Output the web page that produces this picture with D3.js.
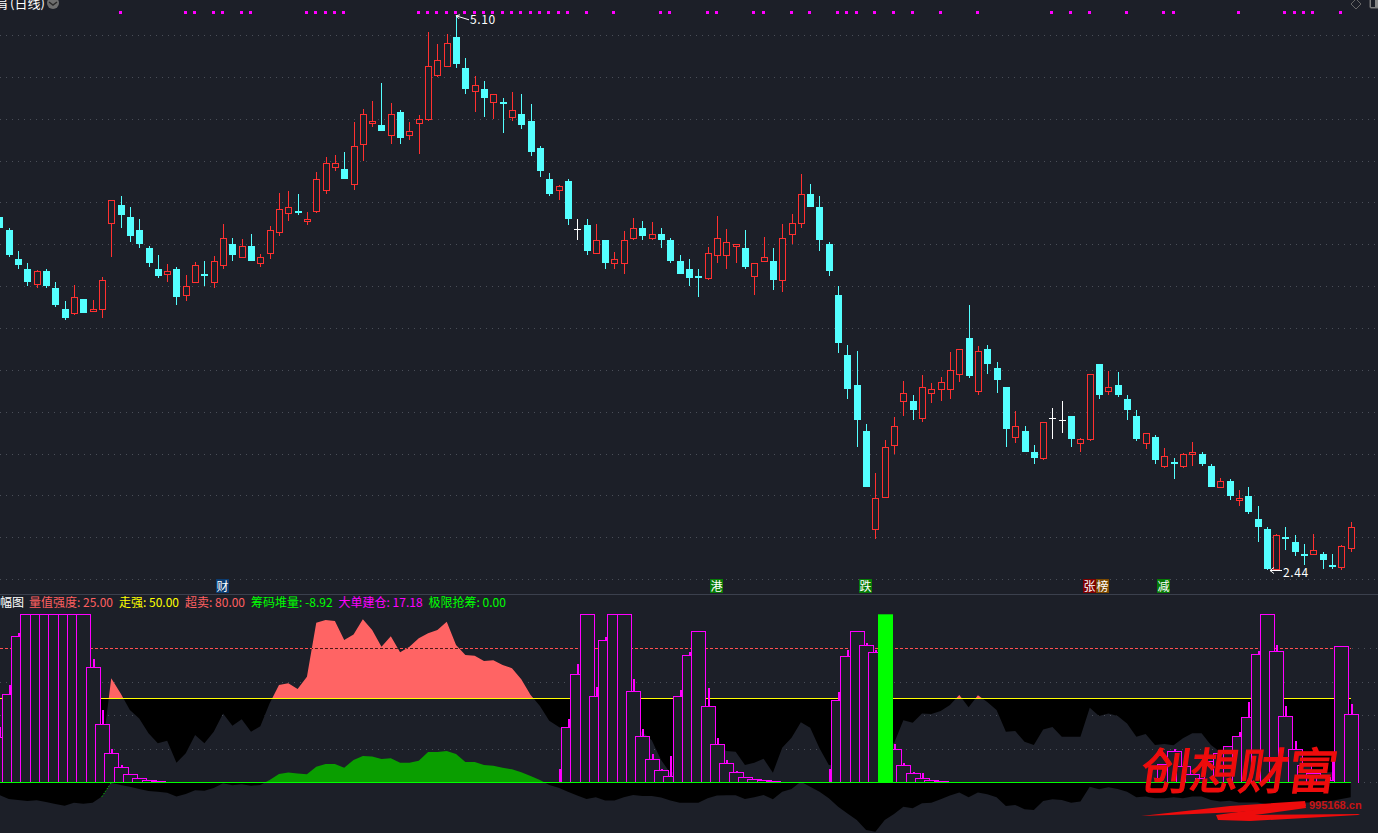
<!DOCTYPE html>
<html>
<head>
<meta charset="utf-8">
<script src="https://cdnjs.cloudflare.com/ajax/libs/d3/7.8.5/d3.min.js"></script>
<style>
html,body{margin:0;padding:0;background:#1c1f28;overflow:hidden}
svg{display:block}
text{font-family:"Noto Sans CJK SC","Liberation Sans",sans-serif}
</style>
</head>
<body>
<div id="chart"></div>
<script>
const opens = [
4.134,4.072,3.933,3.885,3.811,3.875,3.794,3.693,3.670,3.741,
3.682,3.690,4.104,4.192,4.134,4.072,3.986,3.885,3.859,3.885,
3.757,3.819,3.861,3.819,3.901,4.005,3.939,3.995,3.910,3.958,
4.061,4.152,4.163,4.114,4.160,4.261,4.373,4.365,4.290,4.483,
4.584,4.576,4.526,4.638,4.526,4.584,4.603,4.814,4.858,4.998,
4.850,4.738,4.749,4.683,4.686,4.611,4.629,4.595,4.466,4.317,
4.262,4.307,4.078,4.096,3.958,4.024,3.910,3.910,4.030,4.082,
4.030,4.053,4.024,3.923,3.885,3.851,3.838,3.949,3.949,3.994,
3.986,3.850,3.920,3.923,3.829,4.050,4.104,4.245,4.182,4.005,
3.760,3.472,3.328,3.107,2.635,2.790,3.037,3.248,3.251,3.166,
3.286,3.306,3.306,3.378,3.554,3.296,3.501,3.410,3.318,3.075,
3.107,3.006,2.974,3.168,3.158,3.179,3.046,3.066,3.429,3.296,
3.328,3.261,3.179,3.046,3.078,2.936,2.958,2.936,2.994,2.997,
2.939,2.835,2.867,2.773,2.795,2.685,2.637,2.442,2.598,2.574,
2.517,2.514,2.517,2.464,2.451,2.542]
const highs = [
4.134,4.082,3.971,3.914,3.880,3.885,3.822,3.731,3.808,3.741,
3.736,3.846,4.214,4.235,4.182,4.125,3.995,3.952,3.909,3.894,
3.856,3.918,3.923,3.947,4.101,4.034,4.029,4.053,3.957,4.091,
4.250,4.259,4.245,4.158,4.350,4.422,4.432,4.446,4.590,4.653,
4.691,4.778,4.682,4.648,4.590,4.624,5.022,4.965,5.013,5.100,
4.898,4.811,4.787,4.723,4.706,4.734,4.725,4.677,4.475,4.346,
4.288,4.317,4.125,4.125,4.101,4.024,3.966,4.067,4.130,4.115,
4.110,4.082,4.034,3.952,3.933,3.885,3.990,4.139,4.077,4.003,
4.072,3.912,4.038,3.986,4.101,4.149,4.341,4.293,4.235,4.014,
3.803,3.520,3.491,3.141,2.906,3.064,3.174,3.347,3.280,3.376,
3.338,3.366,3.486,3.499,3.712,3.515,3.520,3.438,3.318,3.203,
3.131,3.040,3.149,3.218,3.251,3.179,3.074,3.379,3.429,3.395,
3.390,3.280,3.208,3.096,3.088,3.026,2.978,3.002,3.054,3.006,
2.949,2.882,2.877,2.824,2.838,2.747,2.646,2.613,2.646,2.608,
2.565,2.613,2.526,2.517,2.560,2.670]
const lows = [
4.082,3.942,3.885,3.803,3.794,3.794,3.702,3.640,3.664,3.674,
3.682,3.650,3.942,4.082,4.014,3.986,3.894,3.842,3.822,3.712,
3.731,3.819,3.803,3.794,3.885,3.923,3.939,3.923,3.894,3.933,
4.043,4.115,4.144,4.096,4.155,4.245,4.355,4.317,4.264,4.402,
4.566,4.547,4.485,4.485,4.504,4.437,4.594,4.805,4.856,4.850,
4.725,4.638,4.614,4.605,4.538,4.595,4.557,4.427,4.326,4.235,
4.216,4.096,4.024,3.952,3.958,3.885,3.885,3.861,4.024,4.024,
4.024,3.986,3.914,3.861,3.803,3.750,3.832,3.914,3.885,3.914,
3.885,3.760,3.920,3.784,3.774,4.003,4.082,4.182,3.971,3.851,
3.482,3.261,3.030,2.838,2.589,2.786,2.997,3.179,3.160,3.150,
3.242,3.251,3.261,3.342,3.362,3.280,3.381,3.290,3.030,3.050,
3.006,2.949,2.968,3.069,3.098,3.030,3.006,3.059,3.261,3.280,
3.270,3.160,3.059,3.021,2.949,2.930,2.877,2.930,2.939,2.939,
2.838,2.835,2.776,2.747,2.709,2.574,2.440,2.440,2.536,2.507,
2.464,2.514,2.445,2.445,2.440,2.526]
const closes = [
4.082,3.952,3.904,3.822,3.874,3.803,3.712,3.650,3.749,3.674,
3.691,3.830,4.214,4.144,4.043,4.005,3.914,3.851,3.874,3.750,
3.802,3.902,3.851,3.922,4.032,3.952,3.994,3.923,3.941,4.070,
4.171,4.181,4.154,4.123,4.315,4.392,4.392,4.317,4.474,4.627,
4.594,4.547,4.627,4.514,4.546,4.602,4.858,4.886,4.968,4.869,
4.749,4.766,4.706,4.723,4.677,4.646,4.576,4.446,4.355,4.245,
4.282,4.125,4.078,3.971,4.022,3.914,3.931,4.022,4.080,4.043,
4.051,4.024,3.923,3.861,3.842,3.842,3.960,4.032,4.013,4.003,
3.894,3.912,3.941,3.832,4.032,4.104,4.243,4.182,4.024,3.875,
3.530,3.309,3.160,2.838,2.784,3.029,3.130,3.288,3.208,3.317,
3.307,3.341,3.398,3.499,3.371,3.490,3.429,3.352,3.117,3.130,
3.006,2.978,3.149,3.168,3.158,3.069,3.067,3.379,3.280,3.317,
3.280,3.208,3.069,3.096,2.968,2.986,2.949,2.995,3.005,2.949,
2.838,2.866,2.795,2.784,2.718,2.646,2.445,2.606,2.589,2.526,
2.507,2.534,2.488,2.454,2.554,2.645]
const signalDays = [13,20,21,23,24,26,27,33,34,35,36,37,45,46,47,48,49,50,51,52,53,54,55,56,57,58,59,60,61,63,66,71,72,76,77,81,82,85,87,90,91,92,94,96,98,101,105,113,115,117,121,125,126,133,138,139,140,141,144]
const priceGrid = [5.008,4.806,4.605,4.403,4.206,4.005,3.803,3.602,3.400,3.198,2.997,2.800,2.598,2.397]
const tagDays = [24,77,93,117,118,125]
const tagTexts = ["财","港","跌","张","榜","减"]
const tagColors = ["#0b3b70","#067a06","#067a06","#7d0000","#7a4800","#067a06"]

// lower panel
const strength = [
50,50,50,50,50,50,50,50,50,50,
50,17,61.9,53,43,38,29.2,23.2,24.8,11.7,
17.3,28.2,23.2,30.1,41,33.7,37.5,30.1,33.3,47,
57.9,58.9,55.5,62.9,95,96.6,96,84.7,88,97,
90.7,80.7,87,77.4,80.7,85.7,88.7,90.7,95.6,81.7,
75.8,75.4,72.2,72.6,69.8,67.9,61.3,52,45.4,36.7,
33,30,28,25,26,28,30,30,32,30,
25,13.3,5.4,8,15,20,25,22,18.6,18.2,
10.3,11.7,14,5.7,20.6,26.5,35.7,32.5,20.2,10.3,
10,12,15,18,20,22,23.2,37,35.5,41,
40.7,42.4,46,52,44.6,51.8,47.8,43,30.1,30.5,
24.2,22.2,31.5,32.9,27.1,27.1,27.1,44.4,39.5,41,
39.5,35,27.1,28.8,22.2,22.8,22,26.2,29.2,29.2,
22.2,18,15,12,10,10,10,10,10,8,
8,6,6,6,10,25]
const chips = [
-7.5,-9.9,-10.5,-11.1,-10.7,-11.7,-12.9,-13.9,-12.1,-12.7,
-12.1,-8.5,-0.2,-1.6,-2.6,-4,-5.2,-5.6,-6.2,-8.5,
-6.9,-4.8,-5,-3.4,-0.6,-1.8,-1.2,-2,-1.6,1.4,
5,5.8,5.2,4.8,9.3,10.9,10.9,8.7,13.3,15.7,
15.3,13.9,14.3,11.7,11.7,12.9,18,18,18.7,16.9,
12.1,12.1,10.3,9.9,8.7,7.7,6,3.8,1.4,-1.6,
-3.2,-5.6,-7.9,-9.9,-8.9,-10.9,-10.9,-8.9,-7.5,-8.1,
-8.1,-9.1,-10.9,-12.1,-12.1,-12.1,-9.5,-7.9,-7.7,-7.7,
-9.9,-8.9,-7.5,-10.1,-5.6,-4,0.4,-2.6,-5.6,-9.5,
-14.5,-18.5,-22.4,-28.4,-29.4,-22.4,-18.8,-14.5,-15.5,-12.5,
-12.1,-10.1,-7.9,-6,-8.9,-6,-7.1,-8.9,-14.1,-13.5,
-16.1,-16.5,-11.1,-10.1,-10.5,-12.1,-11.5,-2.6,-4.2,-3,
-4,-5.6,-8.9,-8.5,-9.5,-9.5,-8.9,-9.5,-8.5,-8.5,
-10.5,-11.5,-11,-12,-12,-12,-13,-13,-13,-13,
-12,-12,-11,-11,-10,-8.92]
const bigBuy = [
27.1,52.4,86.9,100,100,100,100,100,100,100,
68.5,34.5,17.3,8.9,4.8,2.4,1.4,0.6,0.4,0.4,
0.4,0,0,0,0,0,0,0,0,0,
0,0,0,0,0,0,0,0,0,0,
0,0,0,0,0,0,0,0,0,0,
0,0,0,0,0,0,0,0,0,0,
0,32.7,64.3,100,51.2,84.5,100,100,54.2,27.4,
13.7,7.1,3.6,51.2,75.6,89.9,45.2,22.6,11.3,6,
3,1.8,1.2,0.6,0.4,0.4,0.4,0,0,0,
49.2,75,89.9,81.5,77.4,0,19.6,10.1,5.4,2.4,
1.2,0.6,0.4,0.4,0.4,0,0,0,0,0,
0,0,0,0,0,0,0,0,0,0,
0,0,0,0,0,10.7,18.5,9.5,4.8,2.4,
12.5,17.3,21.4,27.4,38.7,76.2,100,78,39.3,19.6,
10.1,5.4,3,1.2,81,40.5]
const bigBuyTop = [
32.9,57.9,89,0,0,0,0,0,0,0,
73.4,43,19.6,10.3,0,0,0,0,0,0,
0,0,0,0,0,0,0,0,0,0,
0,0,0,0,0,0,0,0,0,0,
0,0,0,0,0,0,0,0,0,0,
0,0,0,0,0,0,0,0,0,0,
7.7,37.5,70.4,0,56.5,86.7,0,0,61.5,31.5,
16.7,8,15.6,55,77.7,0,56.1,26.4,13.1,7,
0,0,0,0,0,0,0,0,0,7.7,
53.6,78.8,0,82.9,78.8,0,22.8,11.5,6.1,5.5,
0,0,0,0,0,0,0,0,0,0,
0,0,0,0,0,0,0,0,0,0,
0,0,0,0,0,0,20,0,0,0,
0,0,0,30,47.6,78,0,81.5,45.2,24.4,
0,0,0,14.5,0,46.6]
const limitDays = [95]
const limitValue = [100]
const levels = [20,40,60]
const headerNames = ["量值强度","走强","超卖","筹码堆量","大单建仓","极限抢筹"]
const headerValues = [25,50,80,-8.92,17.18,0]
const headerColors = ["#ff6060","#ffff00","#ff6060","#00ff00","#ff00ff","#00ff00"]

const width = 1378
const height = 833
const bg = "#1c1f28"
const red = "#ff3030"
const cyan = "#54ffff"
const magenta = "#ff00ff"

const svg = d3.select("#chart").append("svg").attr("width", width).attr("height", height)
svg.append("rect").attr("width", width).attr("height", height).attr("fill", bg)

const x = d3.scaleLinear().domain([0, 145]).range([-0.6, 1350.7])
const px = i => Math.round(x(i))
const y = d3.scaleLinear().domain([2.44, 5.10]).range([570, 15.8])
const yLow = d3.scaleLinear().domain([0, 100]).range([782.3, 614.3])
const days = d3.range(opens.length)

// grid of upper panel
svg.append("g").selectAll("line").data(priceGrid).join("line")
    .attr("x1", 0).attr("x2", width)
    .attr("y1", d => Math.round(y(d)) + 0.5).attr("y2", d => Math.round(y(d)) + 0.5)
    .attr("stroke", "#4a4e58").attr("stroke-dasharray", "1 5")

// signal squares along the top
svg.append("g").selectAll("rect").data(signalDays).join("rect")
    .attr("x", d => px(d) - 2).attr("y", 11).attr("width", 3).attr("height", 3)
    .attr("fill", magenta)

// candles
const candle = svg.append("g").attr("shape-rendering", "crispEdges")
    .selectAll("g").data(days).join("g")
const candleColor = i => closes[i] > opens[i] ? red : closes[i] < opens[i] ? cyan : "#ffffff"
candle.append("line")
    .attr("x1", i => px(i) + 0.5).attr("x2", i => px(i) + 0.5)
    .attr("y1", i => y(highs[i])).attr("y2", i => y(lows[i]))
    .attr("stroke", candleColor)
candle.append("rect")
    .attr("x", i => closes[i] > opens[i] ? px(i) - 3 + 0.5 : px(i) - 3)
    .attr("width", i => closes[i] > opens[i] ? 6 : 7)
    .attr("y", i => y(Math.max(opens[i], closes[i])))
    .attr("height", i => closes[i] === opens[i] ? 1 : Math.abs(y(opens[i]) - y(closes[i])))
    .attr("fill", i => closes[i] > opens[i] ? bg : candleColor(i))
    .attr("stroke", i => closes[i] > opens[i] ? red : "none")

// high / low marks
const hiDay = d3.greatest(days, i => highs[i])
const loDay = d3.least(days, i => lows[i])
const marks = svg.append("g").attr("fill", "#fff").attr("font-size", 12).attr("letter-spacing", 0.6)
marks.append("path")
    .attr("d", `M${px(hiDay)},${y(highs[hiDay])}l13,4M${px(hiDay)},${y(highs[hiDay])}l4,-1M${px(hiDay)},${y(highs[hiDay])}l3,3`)
    .attr("stroke", "#fff").attr("fill", "none")
marks.append("text").attr("x", px(hiDay) + 14).attr("y", y(highs[hiDay]) + 8.5)
    .text(d3.format(".2f")(highs[hiDay]))
marks.append("path")
    .attr("d", `M${px(loDay) + 3},${y(lows[loDay]) + 0.5}h12M${px(loDay) + 3},${y(lows[loDay]) + 0.5}l4,-3M${px(loDay) + 3},${y(lows[loDay]) + 0.5}l4,3`)
    .attr("stroke", "#fff").attr("fill", "none")
marks.append("text").attr("x", px(loDay) + 16).attr("y", y(lows[loDay]) + 7)
    .text(d3.format(".2f")(lows[loDay]))

// coloured tags above the separator, neighbours sit side by side
let tagEnd = 0
const tagLeft = tagDays.map(d => {
    const l = Math.max(px(d) - 7, tagEnd)
    tagEnd = l + 13
    return l
})
const tag = svg.append("g").selectAll("g").data(tagDays).join("g")
tag.append("rect")
    .attr("x", (d, i) => tagLeft[i]).attr("y", 579).attr("width", 13).attr("height", 14)
    .attr("fill", (d, i) => tagColors[i])
tag.append("text")
    .attr("x", (d, i) => tagLeft[i] + 6.5).attr("y", 591).attr("text-anchor", "middle")
    .attr("font-size", 12).attr("fill", "#fff")
    .text((d, i) => tagTexts[i])

// title stub cut off by the window top
svg.append("text").attr("x", -5).attr("y", 8).attr("font-size", 13).attr("fill", "#fff").text("肩")
svg.append("text").attr("x", 10).attr("y", 8).attr("font-size", 13).attr("fill", "#fff").text("(日线)")
svg.append("circle").attr("cx", 53).attr("cy", 3).attr("r", 6).attr("fill", "#6e6e6e")
svg.append("path").attr("d", "M49,2l4,3l4,-3").attr("stroke", "#2a2a2a").attr("stroke-width", 1.5).attr("fill", "none")
svg.append("path").attr("d", "M1356,-1l5,5l-5,5l-5,-5z").attr("stroke", "#666").attr("fill", "none")
svg.append("rect").attr("x", 1370).attr("y", -3).attr("width", 12).attr("height", 11).attr("rx", 1).attr("fill", "#888").attr("stroke", "#777")
svg.append("rect").attr("x", 1371).attr("y", -2).attr("width", 4).attr("height", 9).attr("fill", bg)

// separator
svg.append("line").attr("x1", 0).attr("x2", width).attr("y1", 594.5).attr("y2", 594.5).attr("stroke", "#3b404d")

// lower panel
const defs = svg.append("defs")
const addClip = (id, y0, y1) => defs.append("clipPath").attr("id", id).append("rect")
    .attr("x", 0).attr("y", y0).attr("width", width).attr("height", y1 - y0)
addClip("above50", 595, yLow(50))
addClip("below50", yLow(50), height)
addClip("above0", 595, yLow(0))
addClip("below0", yLow(0), height)

const strengthArea = d3.area().x(i => x(i)).y0(yLow(50)).y1(i => yLow(strength[i]))
const chipsArea = d3.area().x(i => x(i)).y0(yLow(0)).y1(i => yLow(chips[i]))

svg.append("g").selectAll("line").data(levels).join("line")
    .attr("x1", 0).attr("x2", width)
    .attr("y1", d => Math.round(yLow(d)) + 0.5).attr("y2", d => Math.round(yLow(d)) + 0.5)
    .attr("stroke", "#4a4e58").attr("stroke-dasharray", "1 5")
svg.append("line").attr("x1", 1352).attr("x2", width)
    .attr("y1", Math.round(yLow(80)) + 0.5).attr("y2", Math.round(yLow(80)) + 0.5)
    .attr("stroke", "#4a4e58").attr("stroke-dasharray", "1 5")
svg.append("line").attr("x1", 1352).attr("x2", width)
    .attr("y1", Math.round(yLow(0)) + 0.5).attr("y2", Math.round(yLow(0)) + 0.5)
    .attr("stroke", "#4a4e58").attr("stroke-dasharray", "1 5")

svg.append("line").attr("x1", 0).attr("x2", 1351)
    .attr("y1", Math.round(yLow(80)) + 0.5).attr("y2", Math.round(yLow(80)) + 0.5)
    .attr("stroke", "#ff5050").attr("stroke-dasharray", "3 2")

svg.append("path").datum(days).attr("d", strengthArea).attr("fill", "#000").attr("clip-path", "url(#below50)")
svg.append("path").datum(days).attr("d", strengthArea).attr("fill", "#ff6464").attr("clip-path", "url(#above50)")
svg.append("path").datum(days).attr("d", chipsArea).attr("fill", "#000").attr("clip-path", "url(#below0)")
svg.append("path").datum(days).attr("d", chipsArea).attr("fill", "#0a9e00").attr("clip-path", "url(#above0)")

// dashes turn dark where they cross the red area
defs.append("clipPath").attr("id", "overRed").append("path").datum(days).attr("d", strengthArea)
svg.append("line").attr("x1", 0).attr("x2", 1351)
    .attr("y1", Math.round(yLow(80)) + 0.5).attr("y2", Math.round(yLow(80)) + 0.5)
    .attr("stroke", "#4a1a1a").attr("stroke-dasharray", "3 2").attr("clip-path", "url(#overRed)")

svg.append("line").attr("x1", 0).attr("x2", 1351)
    .attr("y1", Math.round(yLow(50)) + 0.5).attr("y2", Math.round(yLow(50)) + 0.5)
    .attr("stroke", "#ffff00")

// bars, later days cover earlier ones
const barDays = days.filter(i => bigBuy[i] > 0)
const bars = svg.append("g").attr("shape-rendering", "crispEdges")
bars.selectAll("path").data(barDays).join("path")
    .attr("d", i => {
        const l = px(i) - 7 + 0.5, r = l + 14, t = Math.round(yLow(bigBuy[i])) + 0.5, b = Math.round(yLow(0)) + 0.5
        return `M${l},${b}V${t}H${r}V${b}`
    })
    .attr("fill", bg).attr("stroke", magenta)
bars.selectAll("line").data(days.filter(i => bigBuyTop[i] > 0)).join("line")
    .attr("x1", i => px(i) + 1).attr("x2", i => px(i) + 1)
    .attr("y1", i => yLow(bigBuyTop[i])).attr("y2", i => yLow(bigBuy[i]))
    .attr("stroke", magenta).attr("stroke-width", 2)

// dotted rise of the chip line where it reaches zero
svg.append("path").datum(chips.slice(11, 13))
    .attr("d", d3.line().x((d, i) => x(i + 11)).y(d => yLow(d)))
    .attr("stroke", "#00ff00").attr("stroke-dasharray", "1 2").attr("fill", "none")

svg.append("line").attr("x1", 0).attr("x2", 1351)
    .attr("y1", Math.round(yLow(0)) + 0.5).attr("y2", Math.round(yLow(0)) + 0.5)
    .attr("stroke", "#00ff00")

svg.append("g").selectAll("rect").data(limitDays).join("rect")
    .attr("x", d => px(d) - 7).attr("width", 15)
    .attr("y", (d, i) => yLow(limitValue[i])).attr("height", (d, i) => yLow(0) - yLow(limitValue[i]))
    .attr("fill", "#00ff00")

// header line of the lower panel
const head = svg.append("g").attr("font-size", 12)
head.append("text").attr("x", 0).attr("y", 607).attr("fill", "#fff").text("幅图")
let cursor = 29
headerNames.forEach((name, i) => {
    const t = head.append("text").attr("x", cursor).attr("y", 607)
        .attr("fill", headerColors[i])
        .text(`${name}: ${headerValues[i].toFixed(2)}`)
    cursor += t.node().getComputedTextLength() + 6
})

// watermark
const wm = svg.append("g").attr("fill", "#ee0c0c")
wm.append("text").attr("transform", "translate(1139,789) skewX(-8)")
    .attr("font-size", 49).attr("font-weight", 400).attr("stroke", "#ee0c0c").attr("stroke-width", 1.3).text("创想财富")
wm.append("path").attr("d", "M1141,816L1230,806L1305,801L1306,806L1240,812L1170,815Z")
wm.append("path").attr("d", "M1216,815L1305,803L1306,808L1255,815L1360,814L1358,815L1250,821L1218,820Z")
wm.append("text").attr("x", 1309).attr("y", 809).attr("font-size", 11).attr("font-weight", 700)
    .attr("fill", "#c81414").style("font-family", "Liberation Sans").text("995168.cn")
</script>
</body>
</html>
